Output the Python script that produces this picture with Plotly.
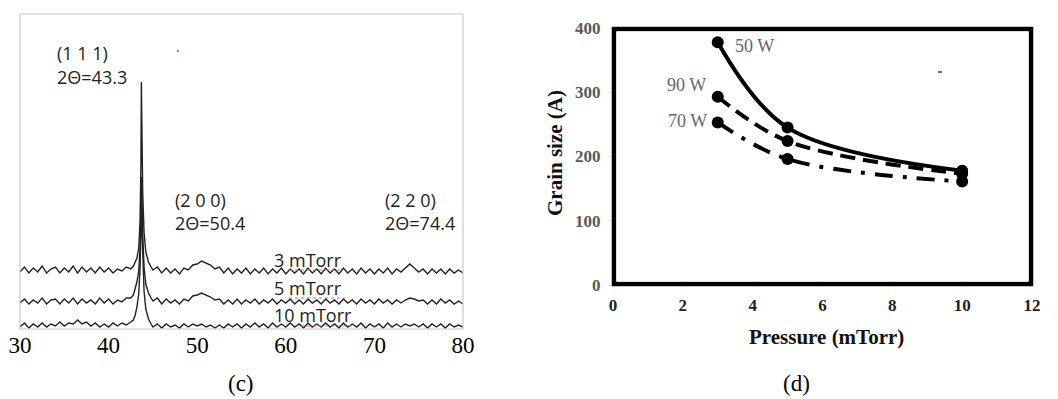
import plotly.graph_objects as go

W, H = 1058, 399

# ---------------- (c) XRD data ----------------
two_theta = [30, 30.5, 31, 31.5, 32, 32.5, 33, 33.5, 34, 34.5, 35, 35.5, 36, 36.5, 37, 37.5,
             38, 38.5, 39, 39.5, 40, 40.5, 41, 41.5, 42, 42.5,
             42.8, 43.0, 43.2, 43.4, 43.55, 43.65, 43.7, 43.75, 43.85, 44.0, 44.2, 44.5, 44.8,
             45, 45.5, 46, 46.5, 47, 47.5, 48, 48.5, 49, 49.5,
             50, 50.5, 51, 51.5, 52, 52.5, 53, 53.5, 54, 54.5,
             55, 55.5, 56, 56.5, 57, 57.5, 58, 58.5, 59, 59.5,
             60, 60.5, 61, 61.5, 62, 62.5, 63, 63.5, 64, 64.5,
             65, 65.5, 66, 66.5, 67, 67.5, 68, 68.5, 69, 69.5,
             70, 70.5, 71, 71.5, 72, 72.5, 73, 73.5, 74, 74.5,
             75, 75.5, 76, 76.5, 77, 77.5, 78, 78.5, 79, 79.5,
             80]

int_3mTorr = [57, 62, 56, 61, 57, 63, 56, 60, 62, 56, 61, 57, 63, 56, 62, 57,
              61, 56, 62, 57, 61, 56, 60, 58, 62, 60,
              63, 67, 71, 81, 107, 167, 247, 207, 137, 97, 77, 67, 62,
              59, 62, 56, 61, 56, 60, 55, 61, 59, 64,
              65, 68, 66, 64, 60, 62, 56, 61, 55, 60,
              56, 61, 55, 60, 56, 61, 55, 60, 56, 61,
              55, 60, 56, 60, 55, 61, 56, 60, 55, 61,
              56, 60, 55, 61, 56, 60, 55, 61, 56, 60,
              55, 60, 56, 61, 55, 60, 57, 61, 65, 61,
              57, 60, 55, 60, 56, 60, 55, 60, 56, 59,
              56]

int_5mTorr = [26, 30, 25, 29, 26, 31, 25, 29, 30, 25, 30, 26, 31, 25, 30, 26,
              29, 25, 31, 26, 30, 25, 29, 27, 31, 31,
              34, 40, 47, 58, 80, 125, 152, 135, 95, 62, 45, 36, 31,
              28, 31, 25, 30, 26, 29, 25, 30, 28, 33,
              34, 36, 34, 32, 29, 30, 25, 29, 25, 30,
              25, 29, 26, 30, 25, 29, 26, 30, 25, 29,
              26, 30, 25, 29, 25, 30, 26, 29, 25, 30,
              26, 29, 25, 30, 26, 29, 25, 30, 26, 29,
              25, 30, 26, 29, 25, 29, 26, 29, 31, 30,
              28, 29, 25, 29, 25, 30, 26, 29, 25, 28,
              25]

int_10mTorr = [2, 6, 1, 5, 2, 6, 2, 5, 3, 7, 3, 6, 5, 9, 5, 7,
               3, 6, 2, 5, 2, 6, 3, 6, 4, 7,
               9, 14, 22, 35, 60, 100, 120, 105, 70, 38, 20, 10, 5,
               2, 5, 1, 5, 2, 4, 1, 5, 2, 5,
               3, 5, 2, 4, 1, 4, 1, 5, 2, 5,
               1, 5, 2, 6, 2, 5, 1, 6, 2, 5,
               2, 6, 2, 5, 1, 6, 2, 5, 2, 6,
               2, 5, 1, 6, 2, 5, 2, 6, 1, 5,
               2, 5, 1, 6, 2, 5, 2, 5, 3, 5,
               2, 5, 1, 5, 2, 5, 1, 5, 2, 4,
               2]

xrd_series = [("3 mTorr", int_3mTorr), ("5 mTorr", int_5mTorr), ("10 mTorr", int_10mTorr)]
xrd_ticks = [30, 40, 50, 60, 70, 80]

# ---------------- (d) Grain size data ----------------
pressure = [3, 5, 10]
grain_50W = [378, 245, 178]
grain_90W = [293, 224, 173]
grain_70W = [253, 196, 161]
power_series = [("50 W", grain_50W, "solid"),
                ("90 W", grain_90W, "15px,8px"),
                ("70 W", grain_70W, "18px,10px,4px,10px")]
p_ticks = [0, 2, 4, 6, 8, 10, 12]
g_ticks = [0, 100, 200, 300, 400]


def px(x):
    return x / W


def py(y):
    return 1 - y / H


fig = go.Figure()

for name, vals in xrd_series:
    fig.add_trace(go.Scatter(x=two_theta, y=vals, mode="lines", name=name,
                             line=dict(color="#222222", width=1.4),
                             xaxis="x", yaxis="y", showlegend=False))

for name, vals, dash in power_series:
    fig.add_trace(go.Scatter(x=pressure, y=vals, mode="lines+markers", name=name,
                             line=dict(color="black", width=4, dash=dash,
                                       shape="spline", smoothing=1.0),
                             marker=dict(color="black", size=12),
                             xaxis="x2", yaxis="y2", showlegend=False))

serif = "Liberation Serif, Times New Roman, serif"
sans = "Open Sans, Calibri, sans-serif"

fig.update_layout(
    width=W, height=H,
    margin=dict(l=0, r=0, t=0, b=0, pad=0, autoexpand=False),
    paper_bgcolor="white", plot_bgcolor="white",
    xaxis=dict(domain=[px(20), px(463)], range=[30, 80], tickvals=xrd_ticks,
               showgrid=False, zeroline=False, showline=False, ticks="",
               tickfont=dict(family=serif, size=23, color="black"),
               automargin=False, anchor="y"),
    yaxis=dict(domain=[py(329), py(14)], range=[0, 315], visible=False,
               automargin=False, anchor="x"),
    xaxis2=dict(domain=[px(613), px(1032)], range=[0, 12], tickvals=p_ticks,
                showgrid=False, zeroline=False, showline=False,
                ticks="inside", ticklen=4, tickcolor="#cccccc",
                ticklabelstandoff=8,
                tickfont=dict(family=serif, size=17, color="#222222", weight="bold"),
                automargin=False, anchor="y2"),
    yaxis2=dict(domain=[py(285), py(28)], range=[0, 400], tickvals=g_ticks,
                showgrid=False, zeroline=False, showline=False,
                ticks="outside", ticklen=3, tickcolor="#dddddd",
                ticklabelstandoff=5,
                tickfont=dict(family=serif, size=17, color="#595959", weight="bold"),
                automargin=False, anchor="x2"),
)

shapes = [
    # (c) light frame
    dict(type="rect", xref="paper", yref="paper", x0=px(20), x1=px(463),
         y0=py(329), y1=py(14), line=dict(color="#c8c8c8", width=1.2)),
    # (d) heavy frame
    dict(type="rect", xref="paper", yref="paper", x0=px(614), x1=px(1031),
         y0=py(284), y1=py(29), line=dict(color="black", width=4.5)),
    dict(type="rect", xref="paper", yref="paper", x0=px(617), x1=px(1028),
         y0=py(281), y1=py(32), line=dict(color="white", width=1)),
    # spell-check underlines and specks in the source image
    dict(type="line", xref="paper", yref="paper", x0=px(289), x1=px(343),
         y0=py(270), y1=py(270), line=dict(color="#d07070", width=1, dash="dot")),
    dict(type="line", xref="paper", yref="paper", x0=px(289), x1=px(345),
         y0=py(298), y1=py(298), line=dict(color="#d07070", width=1, dash="dot")),
    dict(type="line", xref="paper", yref="paper", x0=px(301), x1=px(355),
         y0=py(326), y1=py(326), line=dict(color="#d07070", width=1, dash="dot")),
    dict(type="line", xref="paper", yref="paper", x0=px(177), x1=px(179),
         y0=py(51), y1=py(51), line=dict(color="#e04040", width=1.5)),
    dict(type="line", xref="paper", yref="paper", x0=px(938), x1=px(942),
         y0=py(72), y1=py(72), line=dict(color="#444444", width=1.5)),
]

annotations = [
    dict(text="(1 1 1)", x=px(55), y=py(53)),
    dict(text="2Θ=43.3", x=px(55), y=py(77)),
    dict(text="(2 0 0)", x=px(173), y=py(200)),
    dict(text="2Θ=50.4", x=px(173), y=py(223)),
    dict(text="(2 2 0)", x=px(383), y=py(200)),
    dict(text="2Θ=74.4", x=px(383), y=py(223)),
]
for a in annotations:
    a.update(xref="paper", yref="paper", xanchor="left", yanchor="middle",
             showarrow=False, font=dict(family=sans, size=18, color="#222222"))

labels = [
    dict(text="3 mTorr", x=px(308), y=py(260)),
    dict(text="5 mTorr", x=px(308), y=py(288)),
    dict(text="10 mTorr", x=px(313), y=py(315)),
]
for a in labels:
    a.update(xref="paper", yref="paper", xanchor="center", yanchor="middle",
             showarrow=False, font=dict(family=sans, size=18, color="#222222"))
annotations += labels

power_labels = [
    dict(text="50 W", x=px(754), y=py(46)),
    dict(text="90 W", x=px(686), y=py(85)),
    dict(text="70 W", x=px(687), y=py(121)),
]
for a in power_labels:
    a.update(xref="paper", yref="paper", xanchor="center", yanchor="middle",
             showarrow=False, font=dict(family=serif, size=18, color="#666666"))
annotations += power_labels

annotations += [
    dict(text="Pressure (mTorr)", x=px(826), y=py(337), xref="paper", yref="paper",
         xanchor="center", yanchor="middle", showarrow=False,
         font=dict(family=serif, size=21, color="#111111", weight="bold")),
    dict(text="Grain size (A)", x=px(555), y=py(153), xref="paper", yref="paper",
         xanchor="center", yanchor="middle", showarrow=False, textangle=-90,
         font=dict(family=serif, size=21, color="#111111", weight="bold")),
    dict(text="(c)", x=px(241), y=py(383), xref="paper", yref="paper",
         xanchor="center", yanchor="middle", showarrow=False,
         font=dict(family=serif, size=23, color="black")),
    dict(text="(d)", x=px(796), y=py(383), xref="paper", yref="paper",
         xanchor="center", yanchor="middle", showarrow=False,
         font=dict(family=serif, size=23, color="black")),
]

fig.update_layout(shapes=shapes, annotations=annotations)
fig.write_html("out.html", config={"displayModeBar": False},
               post_script="document.body.style.margin='0';document.body.style.overflow='hidden';")
